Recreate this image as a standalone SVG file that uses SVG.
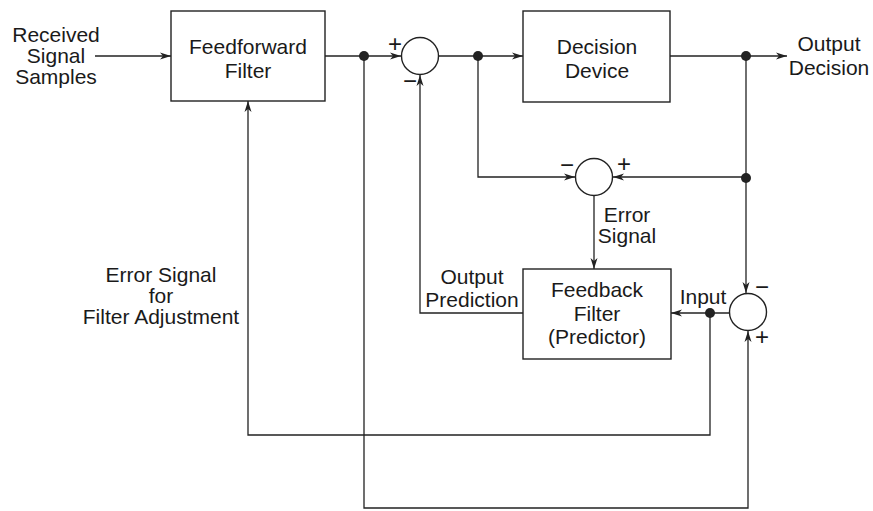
<svg xmlns="http://www.w3.org/2000/svg" width="873" height="511" viewBox="0 0 873 511">
<style>
.box{fill:none;stroke:#222;stroke-width:1.4}
.sum{fill:#fff;stroke:#222;stroke-width:1.4}
.ln{fill:none;stroke:#222;stroke-width:1.3}
.dot{fill:#222}
text{font-family:"Liberation Sans",Arial,sans-serif;font-size:21px;fill:#1a1a1a}
.c{text-anchor:middle}
.sg{font-size:24px;text-anchor:middle}
</style>
<defs>
<marker id="ah" markerWidth="12" markerHeight="10" refX="11" refY="4" orient="auto" markerUnits="userSpaceOnUse">
<path d="M0,0.5 L11,4 L0,7.5 L3,4 z" fill="#222"/>
</marker>
</defs>
<rect width="873" height="511" fill="#fff"/>
<g id="connectors">
<path class="ln" d="M95,56 H171" marker-end="url(#ah)"/>
<path class="ln" d="M325,56 H401" marker-end="url(#ah)"/>
<path class="ln" d="M439,56 H523" marker-end="url(#ah)"/>
<path class="ln" d="M670,56 H787" marker-end="url(#ah)"/>
<path class="ln" d="M746,56 V293" marker-end="url(#ah)"/>
<path class="ln" d="M746,177 H613" marker-end="url(#ah)"/>
<path class="ln" d="M478,56 V177 H575" marker-end="url(#ah)"/>
<path class="ln" d="M594,196 V269" marker-end="url(#ah)"/>
<path class="ln" d="M729,313 H671" marker-end="url(#ah)"/>
<path class="ln" d="M523,313 H420 V75" marker-end="url(#ah)"/>
<path class="ln" d="M710,313 V435 H248 V101" marker-end="url(#ah)"/>
<path class="ln" d="M364,56 V508 H748 V331" marker-end="url(#ah)"/>
<circle class="dot" cx="364" cy="56" r="5"/>
<circle class="dot" cx="478" cy="56" r="5"/>
<circle class="dot" cx="746" cy="56" r="5"/>
<circle class="dot" cx="746" cy="178" r="5"/>
<circle class="dot" cx="710" cy="313" r="5"/>
</g>
<g id="input-label">
<text class="c" x="56" y="42">Received</text>
<text class="c" x="56" y="63">Signal</text>
<text class="c" x="56" y="84">Samples</text>
</g>
<g id="feedforward-filter">
<rect class="box" x="171" y="11" width="154" height="90"/>
<text class="c" x="248" y="54">Feedforward</text>
<text class="c" x="248" y="78">Filter</text>
</g>
<g id="sum1">
<circle class="sum" cx="420" cy="56" r="18.5"/>
<text class="sg" x="395" y="52">+</text>
<text class="sg" x="410" y="89">−</text>
</g>
<g id="decision-device">
<rect class="box" x="523" y="11" width="147" height="91"/>
<text class="c" x="597" y="54">Decision</text>
<text class="c" x="597" y="78">Device</text>
</g>
<g id="output-label">
<text class="c" x="829" y="51">Output</text>
<text class="c" x="829" y="75">Decision</text>
</g>
<g id="sum-error">
<circle class="sum" cx="594" cy="177" r="18.5"/>
<text class="sg" x="567" y="173">−</text>
<text class="sg" x="624" y="172">+</text>
<text class="c" x="627" y="222">Error</text>
<text class="c" x="627" y="243">Signal</text>
</g>
<g id="feedback-filter">
<rect class="box" x="523" y="269" width="148" height="90"/>
<text class="c" x="597" y="297">Feedback</text>
<text class="c" x="597" y="321">Filter</text>
<text class="c" x="597" y="344">(Predictor)</text>
</g>
<g id="output-prediction-label">
<text class="c" x="472" y="284">Output</text>
<text class="c" x="472" y="307">Prediction</text>
</g>
<g id="sum-input">
<circle class="sum" cx="748" cy="312" r="18.5"/>
<text class="sg" x="762" y="295">−</text>
<text class="sg" x="762" y="345">+</text>
<text class="c" x="703" y="304">Input</text>
</g>
<g id="adjust-label">
<text class="c" x="161" y="282">Error Signal</text>
<text class="c" x="161" y="303">for</text>
<text class="c" x="161" y="324">Filter Adjustment</text>
</g>
</svg>
